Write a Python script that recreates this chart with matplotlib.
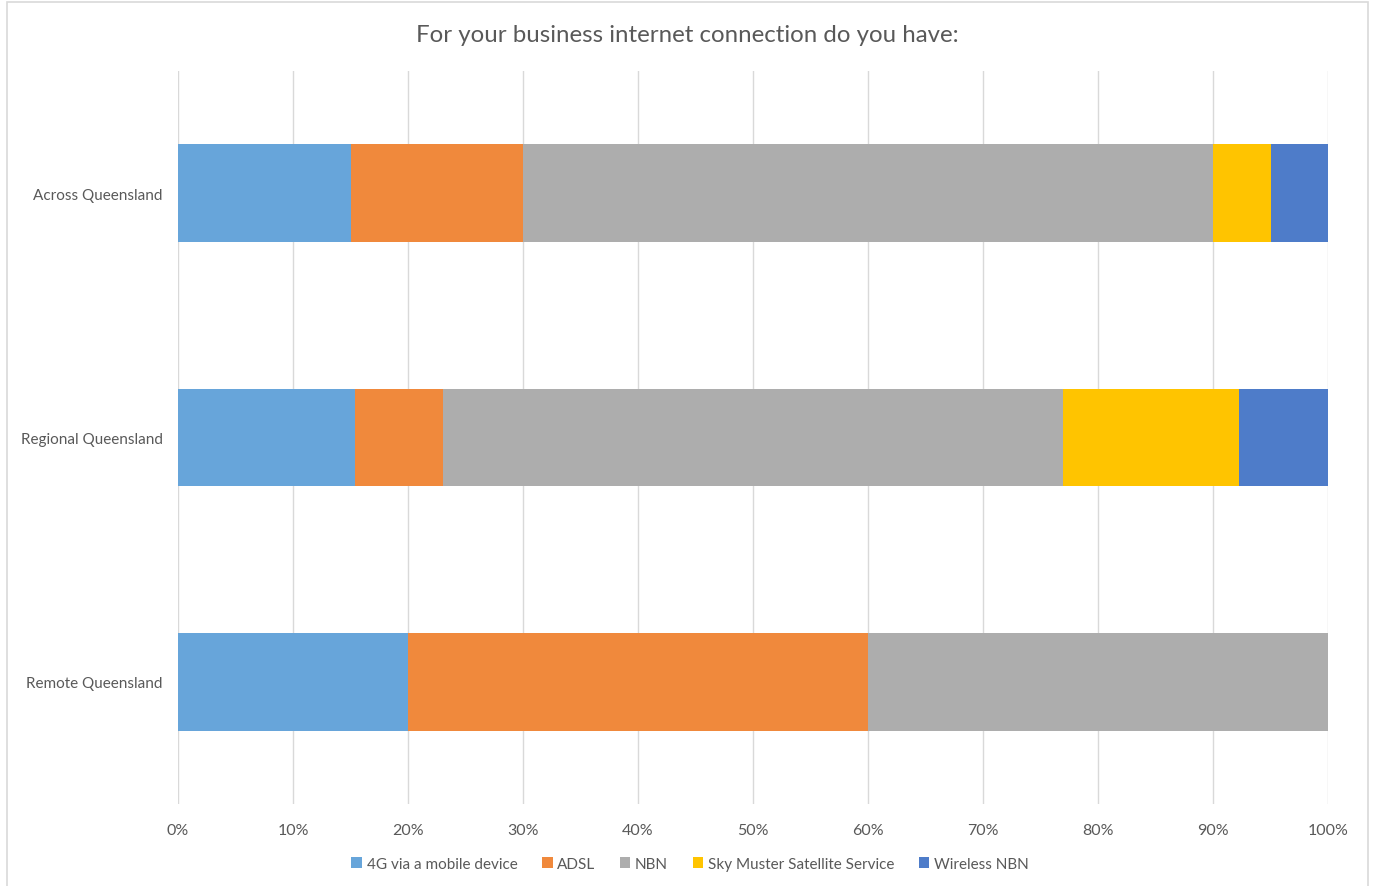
import matplotlib
matplotlib.use("Agg")
import matplotlib.pyplot as plt
from matplotlib.patches import Rectangle
from matplotlib.ticker import FuncFormatter, MultipleLocator

plt.rcParams['font.family'] = ['Lato', 'DejaVu Sans']

categories = ["Across Queensland", "Regional Queensland", "Remote Queensland"]
series_names = ["4G via a mobile device", "ADSL", "NBN",
                "Sky Muster Satellite Service", "Wireless NBN"]
# share of responses (%) per region, in series order
across = [15.0, 15.0, 60.0, 5.0, 5.0]
regional = [15.38, 7.69, 53.85, 15.38, 7.69]
remote = [20.0, 40.0, 40.0, 0.0, 0.0]
colors = ["#67A5DA", "#F0893C", "#ADADAD", "#FFC400", "#4E7CC9"]

rows = [across, regional, remote]

fig = plt.figure(figsize=(13.75, 8.87), dpi=100)
ax = fig.add_axes([178 / 1375, 1 - 805 / 887, 1150 / 1375, 733 / 887])

# chart border
fig.patches.append(Rectangle((6.5 / 1375, -0.01), 1361 / 1375, 1 - 2.5 / 887 + 0.01,
                             transform=fig.transFigure, fill=False,
                             edgecolor="#D9D9D9", linewidth=1.2))

ypos = list(range(len(categories)))
lefts = [0.0] * len(categories)
for i, name in enumerate(series_names):
    vals = [r[i] for r in rows]
    ax.barh(ypos, vals, left=lefts, height=0.4, color=colors[i], label=name,
            zorder=3)
    lefts = [l + v for l, v in zip(lefts, vals)]

ax.set_xlim(0, 100)
ax.set_ylim(2.5, -0.5)
ax.set_yticks(ypos)
ax.set_yticklabels(categories, fontsize=11, color="#595959")
ax.xaxis.set_major_locator(MultipleLocator(10))
ax.xaxis.set_major_formatter(FuncFormatter(lambda v, p: f"{v:.0f}%"))
ax.tick_params(axis="x", labelsize=11.5, labelcolor="#595959", length=0, pad=14)
ax.tick_params(axis="y", length=0, pad=11)
ax.grid(axis="x", color="#D9D9D9", linewidth=1, zorder=0)
for s in ax.spines.values():
    s.set_visible(False)

fig.text(687 / 1375, 1 - 35 / 887, "For your business internet connection do you have:",
         ha="center", va="center", fontsize=17.3, color="#595959")

leg = fig.legend(loc="center", bbox_to_anchor=(690 / 1375, 1 - 865 / 887), ncol=5,
                 frameon=False, fontsize=11, handlelength=0.7, handleheight=0.7,
                 handletextpad=0.3, columnspacing=1.6)
for t in leg.get_texts():
    t.set_color("#595959")

fig.savefig("out.png", dpi=100)
